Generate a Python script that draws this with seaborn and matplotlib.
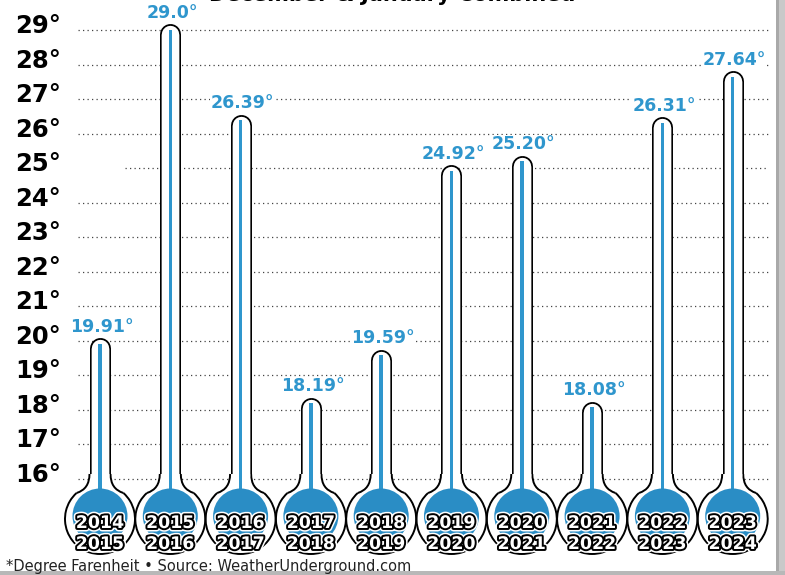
import matplotlib
matplotlib.use('Agg')
import matplotlib.pyplot as plt
import matplotlib.patheffects as pe
from matplotlib.patches import Ellipse, Rectangle, PathPatch, Arc
from matplotlib.path import Path
import numpy as np
import pandas as pd
import seaborn as sns

# data
season_start = ['2014', '2015', '2016', '2017', '2018', '2019', '2020', '2021', '2022', '2023']
season_end = ['2015', '2016', '2017', '2018', '2019', '2020', '2021', '2022', '2023', '2024']
avg_temp = [19.91, 29.0, 26.39, 18.19, 19.59, 24.92, 25.20, 18.08, 26.31, 27.64]
temp_labels = ['19.91°', '29.0°', '26.39°', '18.19°', '19.59°',
               '24.92°', '25.20°', '18.08°', '26.31°', '27.64°']
y_ticks = list(range(16, 30))
title = 'December & January Combined'
footnote = '*Degree Farenheit • Source: WeatherUnderground.com'

blue = '#2f96cd'
bulb_blue = '#2a8dc5'

# pixel layout of the figure
W, H = 785, 575
X0, XS = 100, 70.3       # pixel of first thermometer, pixels per category
Y16, YS = 479, 34.54     # pixel row of 16 degrees, pixels per degree

def dx(p):
    return p / XS

def dy(p):
    return p / YS

def to_x(px):
    return (px - X0) / XS

def to_y(py):
    return 16 + (Y16 - py) / YS

df = pd.DataFrame({'season': [a + '-' + b for a, b in zip(season_start, season_end)],
                   'temp': avg_temp})

sns.set_theme(style='white')
plt.rcParams['font.family'] = ['DejaVu Sans']

fig = plt.figure(figsize=(W / 100, H / 100), dpi=100)
ax = fig.add_axes([0, 0, 1, 1])

# mercury columns
sns.barplot(data=df, x='season', y='temp', color=blue, saturation=1,
            width=dx(3.5), linewidth=0, ax=ax, zorder=5)

ax.set_xlim(to_x(0), to_x(W))
ax.set_ylim(to_y(H), to_y(0))
ax.axis('off')

bulb_y = to_y(519)
clip = Rectangle((to_x(0), bulb_y), 20, 30, transform=ax.transData)
for bar in ax.patches:
    bar.set_clip_path(clip)

# dotted grid
for v in y_ticks:
    start = 125 if v == 25 else 78
    ax.hlines(v, to_x(start), to_x(768), colors='#444444', linewidth=0.9,
              linestyles=(0, (1, 2.6)), zorder=1)
    ax.text(to_x(15), v - dy(3), f'{v}°', ha='left', va='baseline',
            fontsize=17.5, fontweight='bold', color='black')

year_fx = [pe.Stroke(linewidth=5, foreground='white'),
           pe.Stroke(linewidth=2.8, foreground='black'), pe.Normal()]

# angle (in data space) where the neck meets the bulb outline
join = np.degrees(np.arctan2(dy(26), dx(23.4)))

for i, (v, lab) in enumerate(zip(avg_temp, temp_labels)):
    top = v + dy(6)
    # glass tube with round top
    ax.plot([i, i], [bulb_y, top - dy(10.5)], color='black', lw=21 * 0.72,
            solid_capstyle='round', zorder=2)
    # bulb: white body, outline open where the neck joins
    ax.add_patch(Ellipse((i, bulb_y), dx(70), dy(70), facecolor='white',
                         edgecolor='none', zorder=3))
    ax.add_patch(Arc((i, bulb_y), dx(70), dy(70), theta1=180 - join,
                     theta2=360 + join, color='black', lw=1.4, zorder=3.5))
    # flared neck between tube and bulb
    lt, lc, lb = (i - dx(10.5), to_y(474)), (i - dx(10.5), to_y(489)), (i - dx(23.4), to_y(493))
    rt, rc, rb = (i + dx(10.5), to_y(474)), (i + dx(10.5), to_y(489)), (i + dx(23.4), to_y(493))
    fill = Path([lt, lc, lb, rb, rc, rt, lt],
                [Path.MOVETO, Path.CURVE3, Path.CURVE3, Path.LINETO,
                 Path.CURVE3, Path.CURVE3, Path.CLOSEPOLY])
    ax.add_patch(PathPatch(fill, facecolor='white', edgecolor='none', zorder=3.4))
    for a, b, c in [(lt, lc, lb), (rt, rc, rb)]:
        wall = Path([a, b, c], [Path.MOVETO, Path.CURVE3, Path.CURVE3])
        ax.add_patch(PathPatch(wall, facecolor='none', edgecolor='black',
                               lw=1.4, zorder=3.5))
    ax.plot([i, i], [to_y(476), top - dy(10.5)], color='white', lw=17.4 * 0.72,
            solid_capstyle='butt', zorder=4)
    ax.plot([i, i], [to_y(480), top - dy(10.5)], color='white', lw=17.4 * 0.72,
            solid_capstyle='round', zorder=4)
    ax.add_patch(Ellipse((i, to_y(516)), dx(55), dy(55), facecolor=bulb_blue,
                         edgecolor='none', zorder=5))
    ax.text(i + dx(2), top + dy(6), lab, ha='center', va='baseline',
            fontsize=12.5, fontweight='bold', color=blue, zorder=6,
            bbox=dict(facecolor='white', edgecolor='none', pad=0.5))
    ax.text(i, to_y(523), season_start[i], ha='center', va='center',
            fontsize=12.5, fontweight='bold', color='white',
            path_effects=year_fx, zorder=7)
    ax.text(i, to_y(544), season_end[i], ha='center', va='center',
            fontsize=12.5, fontweight='bold', color='white',
            path_effects=year_fx, zorder=7)

fig.text(392 / W, 1 - 1 / H, title, ha='center', va='baseline',
         fontsize=15, fontweight='bold', color='black')
fig.text(6 / W, 1 - 566 / H, footnote, ha='left', va='center',
         fontsize=10.5, color='#222222')

# card shadow on the right and bottom
fig.add_artist(Rectangle((776 / W, 0), 3 / W, 1, transform=fig.transFigure,
                         facecolor='#a9a9a9', edgecolor='none'))
fig.add_artist(Rectangle((779 / W, 0), 6 / W, 1, transform=fig.transFigure,
                         facecolor='#c9c9c9', edgecolor='none'))
fig.add_artist(Rectangle((0, 0), 1, 4 / H, transform=fig.transFigure,
                         facecolor='#b8b8b8', edgecolor='none'))

fig.savefig('out.png', dpi=100)
